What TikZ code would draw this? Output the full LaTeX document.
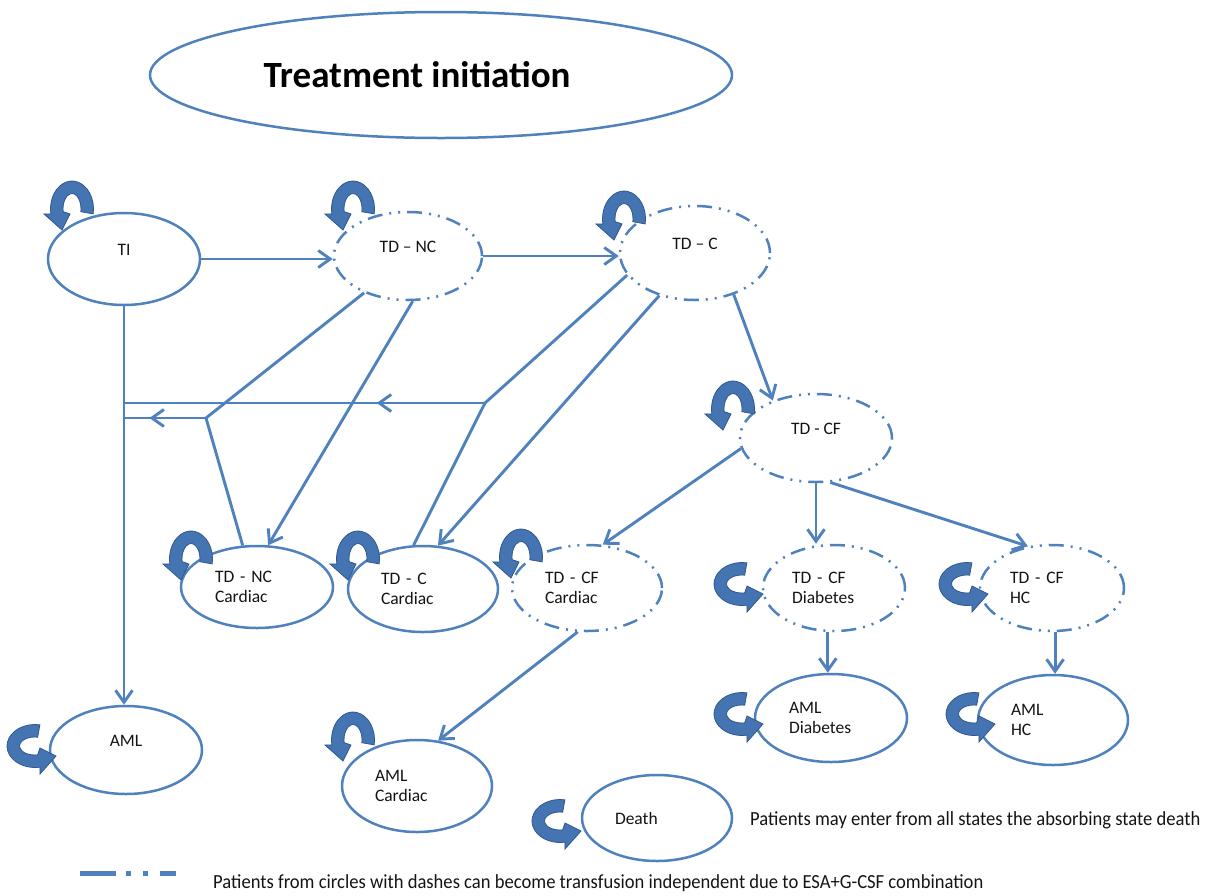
\documentclass[tikz,border=0pt]{standalone}
\usepackage{fontspec}
\setmainfont{Carlito}
\usepackage{graphicx}
\usetikzlibrary{shapes.geometric,arrows.meta,decorations.markings,calc}
\definecolor{ln}{RGB}{79,129,189}
\definecolor{lpfill}{RGB}{68,116,178}
\definecolor{lpdraw}{RGB}{50,88,138}
\definecolor{txt}{RGB}{20,20,20}
\newcommand{\rz}[1]{\raisebox{9pt}[\height][\depth]{#1}}
\begin{document}
\begin{tikzpicture}[x=1pt,y=-1pt,
  st/.style={ellipse, draw=ln, line width=2.5pt, fill=white, inner sep=0pt, text=txt,
             font=\fontsize{17.5}{20}\selectfont},
  dsh/.style={st, dash pattern=on 15pt off 7pt on 2pt off 7pt on 2pt off 7pt},
  two/.style={text width=84pt, align=left},
  plain/.style={draw=ln, line width=2.9pt},
  con/.style={plain, -{Straight Barb[length=12pt,width=17pt]}},
  midarrow/.style={postaction={decorate}, decoration={markings,
     mark=at position #1 with {\arrow[ln,line width=2.9pt]{Straight Barb[length=12pt,width=17pt]}}}},
  loopfill/.style={fill=lpfill, draw=lpdraw, line width=0.8pt},
  selfloop/.pic={
    \path[loopfill] (21.2,4.9) arc[start angle=10, end angle=-190, x radius=21.5, y radius=28]
      -- (-28,5) -- (-10,21) -- (-2,5) -- (-8.86,2.69)
      arc[start angle=-190, end angle=10, x radius=9, y radius=15.5] -- cycle;
  }
]
\useasboundingbox (0,0) rectangle (1205,895);

% title
\node[ellipse, draw=ln, line width=2.5pt, fill=white, inner sep=0pt,
      minimum width=582pt, minimum height=126pt, text=black,
      font=\fontsize{37}{42}\selectfont\bfseries] (title) at (441,75)
      {Treatment initiation\hspace*{48pt}};

% states
\node[st, minimum width=152pt, minimum height=92pt] (ti) at (124,259) {\rz{TI}};
\node[dsh, minimum width=148pt, minimum height=88pt] (tdnc) at (408,256) {\rz{TD – NC}};
\node[dsh, minimum width=150pt, minimum height=94pt] (tdc) at (695,253) {\rz{TD – C}};
\node[dsh, minimum width=152pt, minimum height=88pt] (tdcf) at (816,438) {\rz{TD - CF}};
\node[st, two, minimum width=152pt, minimum height=82pt] (tdncc) at (257,587) {TD - NC\\Cardiac};
\node[st, two, minimum width=150pt, minimum height=86pt] (tdcc) at (423,589) {TD - C\\Cardiac};
\node[dsh, two, minimum width=150pt, minimum height=86pt] (tdcfc) at (587,588) {TD - CF\\Cardiac};
\node[dsh, two, minimum width=142pt, minimum height=86pt] (tdcfd) at (834,588) {TD - CF\\Diabetes};
\node[dsh, two, minimum width=144pt, minimum height=86pt] (tdcfh) at (1052,588) {TD - CF\\HC};
\node[st, two, minimum width=152pt, minimum height=88pt] (amld) at (831,718) {AML\\Diabetes};
\node[st, two, minimum width=150pt, minimum height=90pt] (amlh) at (1053,720) {AML\\HC};
\node[st, minimum width=152pt, minimum height=88pt] (aml) at (126,750) {\rz{AML}};
\node[st, two, minimum width=150pt, minimum height=92pt] (amlc) at (417,786) {AML\\Cardiac};
\node[st, two, minimum width=150pt, minimum height=86pt] (death) at (657,818) {Death};

% junctions
\coordinate (J1) at (485,403);
\coordinate (J2) at (206,418);

% connectors
\draw[con] (ti.east) -- (tdnc.west |- ti.east);
\draw[con] (tdnc.east) -- (tdc.west |- tdnc.east);
\draw[con] (tdc.-47) -- (tdcf.139);
\draw[con] (ti.south) -- (ti.south |- aml.north);
\draw[plain] (tdc.198) -- (J1);
\draw[plain] (tdcc.102) -- (J1);
\draw[plain, midarrow=0.3] (J1) -- (J1 -| ti.south);
\draw[plain] (tdnc.-140) -- (J2);
\draw[plain] (tdncc.109) -- (J2);
\draw[plain, midarrow=0.69] (J2) -- (J2 -| ti.south);
\draw[con] (tdnc.-84) -- (tdncc.75);
\draw[con] (tdc.-130) -- (tdcc.71);
\draw[con] (tdcf.188) -- (tdcfc.70);
\draw[con] (tdcf.south) -- (tdcf.south |- tdcfd.north);
\draw[con] (tdcf.-72) -- (tdcfh.120);
\draw[con] (tdcfd.-98) -- (tdcfd.-98 |- amld.north);
\draw[con] (tdcfh.-86) -- (tdcfh.-86 |- amlh.north);
\draw[con] (tdcfc.-102) -- (amlc.65);

% self loops
\pic at (72,209) {selfloop};
\pic at (353,209) {selfloop};
\pic at (624,219) {selfloop};
\pic at (733,409) {selfloop};
\pic at (191,559) {selfloop};
\pic at (358,559) {selfloop};
\pic at (521,557) {selfloop};
\pic at (353,740) {selfloop};
\pic[rotate=90] at (742,584) {selfloop};
\pic[rotate=90] at (967,584) {selfloop};
\pic[rotate=90] at (742,714) {selfloop};
\pic[rotate=90] at (974,714) {selfloop};
\pic[rotate=90] at (35,746) {selfloop};
\pic[rotate=90] at (560,821) {selfloop};

% notes and legend
\node[anchor=west, inner sep=0pt, text=txt, font=\fontsize{20}{23}\selectfont] (note1) at (750,820)
  {\scalebox{0.93}[1]{Patients may enter from all states the absorbing state death}};
\coordinate (lgA) at (80,873);
\coordinate (lgB) at (176,873);
\draw[ln, line width=5pt, dash pattern=on 36pt off 10pt on 5pt off 12pt on 5pt off 12pt] (lgA) -- (lgB);
\node[anchor=west, inner sep=0pt, text=txt, font=\fontsize{20}{23}\selectfont] (note2) at (213,883)
  {\scalebox{0.93}[1]{Patients from circles with dashes can become transfusion independent due to ESA+G-CSF combination}};
\end{tikzpicture}
\end{document}
